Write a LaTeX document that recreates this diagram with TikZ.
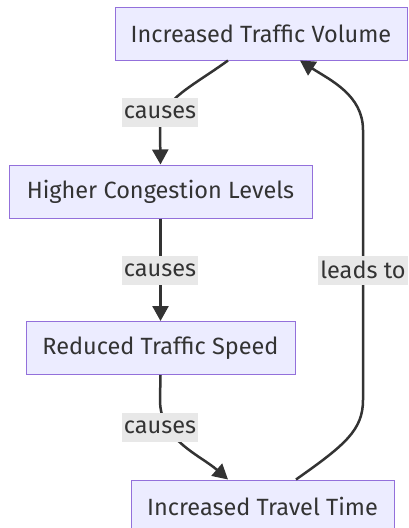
\documentclass[tikz,border=0pt]{standalone}
\usepackage{fontspec}
\setmainfont{Fira Sans}
\usetikzlibrary{arrows.meta,positioning}
\definecolor{boxfill}{HTML}{ECECFF}
\definecolor{boxline}{HTML}{9370DB}
\definecolor{ink}{HTML}{333333}
\definecolor{lblfill}{HTML}{E8E8E8}
\tikzset{
  kocka/.style={draw=boxline,fill=boxfill,line width=1pt,minimum height=53pt,
    inner sep=0pt,text=ink,font=\fontsize{23.5}{28}\selectfont},
  cimke/.style={fill=lblfill,text=ink,inner sep=2pt,minimum height=29pt,
    font=\fontsize{23.5}{28}\selectfont},
  nyil/.style={draw=ink,line width=2.5pt,-{Triangle[length=15pt,width=16pt]}},
}
\begin{document}
\begin{tikzpicture}[x=1pt,y=-1pt]
  \useasboundingbox (0,0) rectangle (408,528);
  % csomopontok
  \node[kocka,minimum width=292pt] (vol) at (261,33.5) {Increased Traffic Volume};
  \node[kocka,minimum width=303pt] (cong) at (160.5,191.5) {Higher Congestion Levels};
  \node[kocka,minimum width=269pt] (speed) at (160.5,348) {Reduced Traffic Speed};
  \node[kocka,minimum width=263pt] (time) at (262.5,506.5) {Increased Travel Time};
  % elek
  \draw[nyil] ([xshift=-33pt]vol.south) .. controls (190,88) and (160,100) .. (160,130)
    -- (cong.north);
  \draw[nyil] (cong.south) -- (speed.north);
  \draw[nyil] (speed.south) -- (160,400) .. controls (160,440) and (200,455)
    .. ([xshift=-34.5pt]time.north);
  \draw[nyil] ([xshift=33.5pt]time.north) .. controls (345,445) and (363,430) .. (363,400)
    -- (363,130) .. controls (363,95) and (330,80) .. ([xshift=39pt]vol.south);
  % cimkek
  \node[cimke] (c1) at (160,112.5) {causes};
  \node[cimke] (c2) at (160,270) {causes};
  \node[cimke] (c3) at (160,427) {causes};
  \node[cimke] (c4) at (363,270) {leads to};
\end{tikzpicture}
\end{document}
